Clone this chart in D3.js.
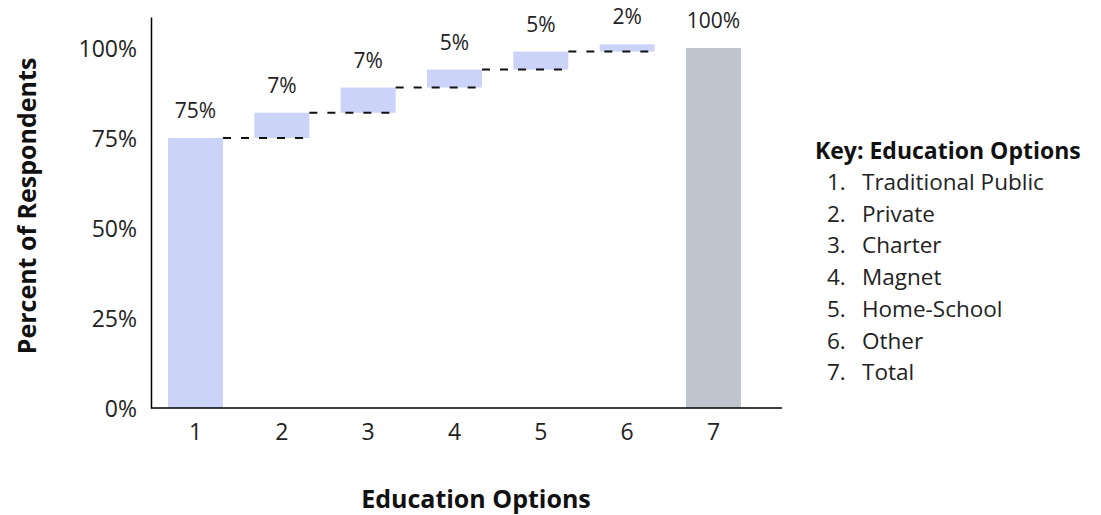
<!DOCTYPE html>
<html>
<head>
<meta charset="utf-8">
<script src="https://cdn.jsdelivr.net/npm/d3@7"></script>
<style>
  html, body { margin: 0; padding: 0; background: #fff; }
  svg { display: block; font-family: "Open Sans", "Noto Sans", sans-serif; }
</style>
</head>
<body>
<svg id="chart" width="1101" height="515"></svg>
<script>
// Education options survey: share of respondents, shown as a waterfall
const categories = ["1", "2", "3", "4", "5", "6", "7"];
const optionNames = ["Traditional Public", "Private", "Charter", "Magnet", "Home-School", "Other", "Total"];
const shareValues = [75, 7, 7, 5, 5, 2];   // percent per option (1–6)
const totalValue = 100;                     // option 7, the total
const yTickValues = [0, 25, 50, 75, 100];

// Build floating segments: each option starts where the previous one ended
let running = 0;
const segments = shareValues.map((v, i) => {
  const seg = { cat: categories[i], start: running, end: running + v, value: v, total: false };
  running += v;
  return seg;
});
segments.push({ cat: categories[6], start: 0, end: totalValue, value: totalValue, total: true });

const svg = d3.select("#chart");

const x = d3.scaleBand()
  .domain(categories)
  .range([152.5, 756.5])
  .paddingInner(0.363)
  .paddingOuter(0.18);

const y = d3.scaleLinear()
  .domain([0, 108.6])
  .range([408, 17]);

const textColor = "#222";
const tickSize = 23;
const valueSize = 21;
const titleSize = 25;

// Bars
svg.append("g").selectAll("rect")
  .data(segments)
  .join("rect")
  .attr("x", d => x(d.cat))
  .attr("width", x.bandwidth())
  .attr("y", d => y(d.end))
  .attr("height", d => y(d.start) - y(d.end))
  .attr("fill", d => d.total ? "#bec5cc" : "#cbd3f8");

// Dashed connectors from each bar's top to the right edge of the next bar
const connectors = segments.slice(0, 5);
svg.append("g").selectAll("line")
  .data(connectors)
  .join("line")
  .attr("x1", d => x(d.cat) + x.bandwidth())
  .attr("x2", (d, i) => x(categories[i + 1]) + x.bandwidth())
  .attr("y1", d => y(d.end))
  .attr("y2", d => y(d.end))
  .attr("stroke", "#111")
  .attr("stroke-width", 2)
  .attr("stroke-dasharray", "8,10");

// Value labels above bars
svg.append("g").selectAll("text")
  .data(segments)
  .join("text")
  .attr("x", d => x(d.cat) + x.bandwidth() / 2)
  .attr("y", d => y(d.end) - 20)
  .attr("text-anchor", "middle")
  .attr("font-size", valueSize)
  .attr("fill", textColor)
  .text(d => d.value + "%");

// Y axis
const yAxis = svg.append("g")
  .attr("transform", "translate(151,0)")
  .call(d3.axisLeft(y).tickValues(yTickValues).tickFormat(d => d + "%").tickSize(0).tickPadding(14))
  .attr("font-family", null)
  .attr("font-size", tickSize);
yAxis.select(".domain").attr("stroke", "#000").attr("stroke-width", 1.5);
yAxis.selectAll("text").attr("fill", textColor).attr("dy", "0.36em");

// X axis
const xAxis = svg.append("g")
  .attr("transform", "translate(0,408)")
  .call(d3.axisBottom(x).tickSize(0).tickPadding(16))
  .attr("font-family", null)
  .attr("font-size", tickSize);
xAxis.select(".domain").attr("d", "M151,0H782").attr("stroke", "#000").attr("stroke-width", 1.5);
xAxis.selectAll("text").attr("fill", textColor);

// Axis titles
svg.append("text")
  .attr("x", 476)
  .attr("y", 508)
  .attr("text-anchor", "middle")
  .attr("font-size", titleSize)
  .attr("font-weight", "bold")
  .attr("fill", "#111")
  .text("Education Options");

svg.append("text")
  .attr("transform", "translate(36,206) rotate(-90)")
  .attr("text-anchor", "middle")
  .attr("font-size", titleSize)
  .attr("font-weight", "bold")
  .attr("fill", "#111")
  .text("Percent of Respondents");

// Key
const key = svg.append("g");
key.append("text")
  .attr("x", 815)
  .attr("y", 159)
  .attr("font-size", 23)
  .attr("font-weight", "bold")
  .attr("fill", "#111")
  .text("Key: Education Options");

const rows = key.selectAll("g.row")
  .data(optionNames)
  .join("g")
  .attr("class", "row")
  .attr("transform", (d, i) => `translate(0,${190 + i * 31.7})`);
rows.append("text")
  .attr("x", 827)
  .attr("font-size", 22.5)
  .attr("fill", textColor)
  .text((d, i) => categories[i] + ".");
rows.append("text")
  .attr("x", 862)
  .attr("font-size", 22.5)
  .attr("fill", textColor)
  .text(d => d);
</script>
</body>
</html>
